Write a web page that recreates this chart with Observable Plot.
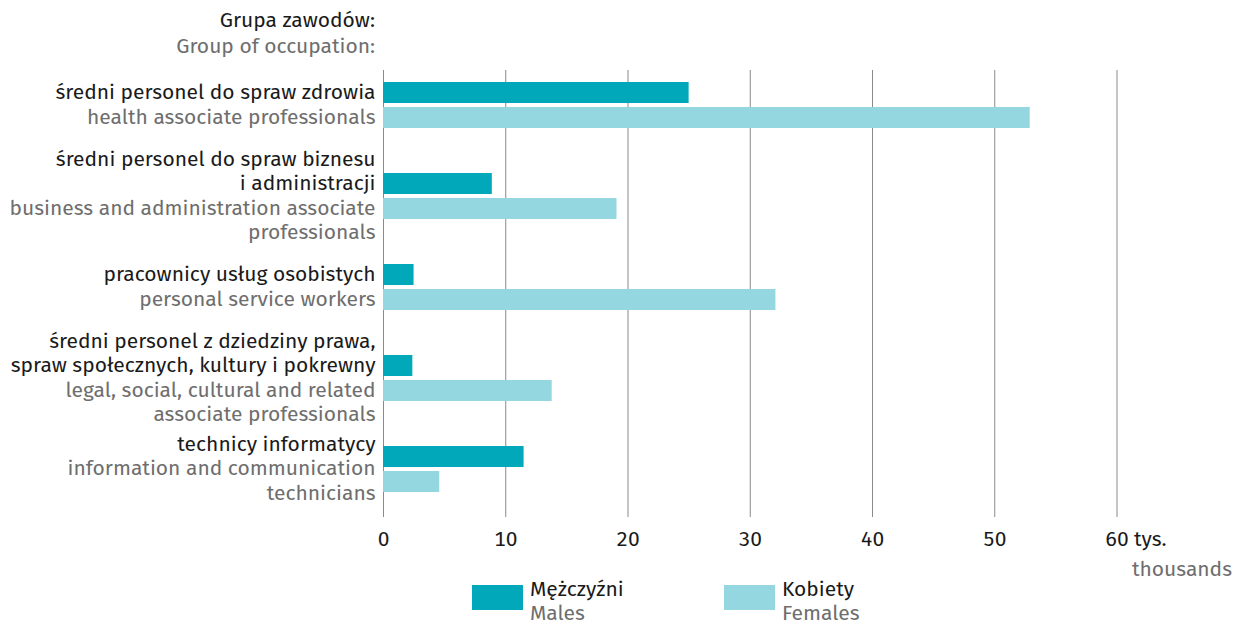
<!DOCTYPE html>
<html>
<head>
<meta charset="utf-8">
<script src="https://cdn.jsdelivr.net/npm/d3@7"></script>
<script src="https://cdn.jsdelivr.net/npm/@observablehq/plot@0.6"></script>
<style>
  body { margin: 0; background: #fff; font-family: "Fira Sans", "Noto Sans", sans-serif; }
  #wrap { position: relative; width: 1234px; height: 625px; overflow: hidden; }
  #title { position: absolute; left: 0; top: 7px; width: 375px; text-align: right; font-size: 21px; line-height: 26px; }
  #title .pl { color: #1a1a1a; }
  #title .en { color: #6e6e6e; }
  #chart { position: absolute; left: 0; top: 65px; }
  .item { position: absolute; top: 578px; display: flex; align-items: flex-start; font-size: 21px; line-height: 23.5px; }
  .sw { width: 51px; height: 25px; margin-right: 7px; margin-top: 7px; }
  .item .pl { color: #1a1a1a; }
  .item .en { color: #6e6e6e; }
</style>
</head>
<body>
<div id="wrap">
  <div id="title"><div class="pl">Grupa zawodów:</div><div class="en">Group of occupation:</div></div>
  <div id="chart"></div>
</div>
<script>
const categoriesPl = [
  "średni personel do spraw zdrowia",
  "średni personel do spraw biznesu\ni administracji",
  "pracownicy usług osobistych",
  "średni personel z dziedziny prawa,\nspraw społecznych, kultury i pokrewny",
  "technicy informatycy"
];
const categoriesEn = [
  "health associate professionals",
  "business and administration associate\nprofessionals",
  "personal service workers",
  "legal, social, cultural and related\nassociate professionals",
  "information and communication\ntechnicians"
];
const males = [25.0, 8.9, 2.5, 2.4, 11.5];
const females = [52.9, 19.1, 32.1, 13.8, 4.6];
const xTicks = [0, 10, 20, 30, 40, 50, 60];
const seriesNames = [["Mężczyźni", "Males"], ["Kobiety", "Females"]];
const colors = ["#00a8b9", "#94d7e0"];
const unitPl = "tys.";
const unitEn = "thousands";

const nbsp = "\u00a0";
const nLines = s => s.split("\n").length;
const rows = categoriesPl.map((c, i) => ({
  cat: c,
  plText: c + ("\n" + nbsp).repeat(nLines(categoriesEn[i])),
  enText: (nbsp + "\n").repeat(nLines(c)) + categoriesEn[i],
  m: males[i],
  f: females[i]
}));
const font = "'Fira Sans', 'Noto Sans', sans-serif";
const FS = 21;
const LH = 24.5 / FS;

const plot = Plot.plot({
  width: 1234,
  height: 520,
  marginLeft: 383,
  marginRight: 117.5,
  marginTop: 5,
  marginBottom: 68,
  style: {fontFamily: font, fontSize: FS + "px", color: "#1a1a1a", background: "#fff", overflow: "visible"},
  x: {domain: [0, 60], ticks: xTicks},
  y: {domain: categoriesPl, range: [13, 430], paddingInner: 0.455, paddingOuter: 0, axis: null},
  marks: [
    Plot.ruleX(xTicks, {stroke: "#8a8a8a", strokeWidth: 1}),
    Plot.barX(rows, {x: "m", y: "cat", fill: colors[0], insetTop: 2, insetBottom: 27}),
    Plot.barX(rows, {x: "f", y: "cat", fill: colors[1], insetTop: 27, insetBottom: 2}),
    Plot.text(rows, {y: "cat", text: "plText", frameAnchor: "left", textAnchor: "end", dx: -8, dy: -2, lineAnchor: "middle", lineHeight: LH, fill: "#1a1a1a", fontSize: FS}),
    Plot.text(rows, {y: "cat", text: "enText", frameAnchor: "left", textAnchor: "end", dx: -8, dy: -2, lineAnchor: "middle", lineHeight: LH, fill: "#6e6e6e", fontSize: FS}),
    Plot.axisX({ticks: xTicks, tickSize: 0, tickPadding: 14, fontSize: FS, tickFormat: d => String(d), label: null, fill: "#1a1a1a"}),
    Plot.text([unitPl], {x: () => 60, frameAnchor: "bottom", text: d => d, textAnchor: "start", lineAnchor: "top", dx: 17, dy: 14, fill: "#1a1a1a", fontSize: FS}),
    Plot.text([unitEn], {x: () => 60, frameAnchor: "bottom", text: d => d, textAnchor: "end", lineAnchor: "top", dx: 115, dy: 44, fill: "#6e6e6e", fontSize: FS})
  ]
});
document.getElementById("chart").appendChild(plot);

const wrap = document.getElementById("wrap");
const legendLeft = [472, 724];
seriesNames.forEach((n, i) => {
  const it = document.createElement("div");
  it.className = "item";
  it.style.left = legendLeft[i] + "px";
  it.innerHTML = `<div class="sw" style="background:${colors[i]}"></div><div><div class="pl">${n[0]}</div><div class="en">${n[1]}</div></div>`;
  wrap.appendChild(it);
});
</script>
</body>
</html>
